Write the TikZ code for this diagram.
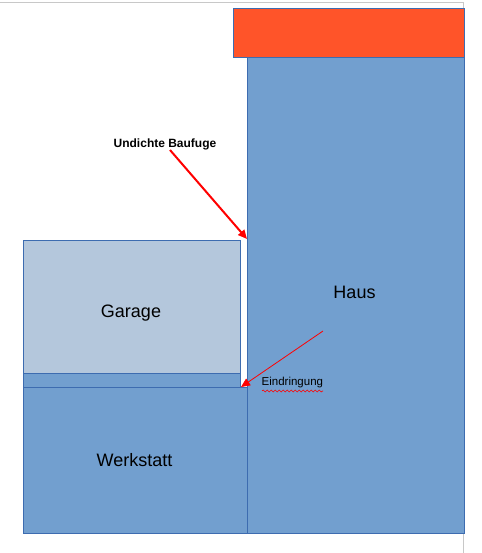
\documentclass[tikz,border=0pt]{standalone}
\usepackage{fontspec}
\setmainfont{Liberation Sans}
\usetikzlibrary{arrows.meta,decorations.pathmorphing}
\definecolor{roof}{HTML}{FF5429}
\definecolor{wall}{HTML}{729FCF}
\definecolor{garfill}{HTML}{B4C7DC}
\definecolor{edge}{HTML}{3D6CB0}
\definecolor{pageline}{HTML}{C8C8C8}
\tikzset{
  block/.style={draw=edge, line width=1pt, anchor=north west, inner sep=0pt, outer sep=0pt},
  lbl/.style={font=\fontsize{18}{21}\selectfont, text=black},
  redarrow/.style={draw=red, -{Triangle[length=9pt,width=8pt]}},
}
\begin{document}
\begin{tikzpicture}[x=1pt,y=-1pt]
\useasboundingbox (0,0) rectangle (481,553);
\fill[white] (0,0) rectangle (481,553);
% page edges
\coordinate (pt0) at (0,2.5);
\coordinate (pt1) at (463.5,2.5);
\coordinate (pt2) at (463.5,553);
\draw[pageline, line width=0.8pt] (pt0) -- (pt1) -- (pt2);
% house
\node[block, fill=wall, minimum width=217pt, minimum height=476pt] (haus) at (247,57.5) {};
\node[block, fill=roof, minimum width=231pt, minimum height=49pt] (roof) at (233,9) {};
% garage
\node[block, fill=garfill, minimum width=217pt, minimum height=133pt] (garage) at (23,240) {};
\node[block, fill=wall, minimum width=217pt, minimum height=14pt] (strip) at (23,373) {};
\node[block, fill=wall, minimum width=224pt, minimum height=146pt] (werk) at (23,387) {};
% labels
\node[lbl] (lhaus) at (354.5,292) {Haus};
\node[lbl] (lgar) at (131,313) {Garage};
\node[lbl] (lwerk) at (134.5,460) {Werkstatt};
\node[font=\bfseries\fontsize{12}{14}\selectfont] (fuge) at (165,144) {Undichte Baufuge};
\node[font=\fontsize{11.5}{13}\selectfont, anchor=west, inner sep=0pt] (eind) at (261.5,383) {Eindringung};
% arrows
\coordinate (a1s) at (170,150);
\coordinate (a1e) at (247,239);
\draw[redarrow, line width=2pt] (a1s) -- (a1e);
\coordinate (a2s) at (323,331);
\coordinate (a2e) at (241,387);
\draw[redarrow, line width=0.8pt] (a2s) -- (a2e);
% spell check underline
\coordinate (w0) at (262,391);
\coordinate (w1) at (323,391);
\draw[red, line width=0.6pt, decorate, decoration={snake, amplitude=1pt, segment length=4pt}] (w0) -- (w1);
\end{tikzpicture}
\end{document}
